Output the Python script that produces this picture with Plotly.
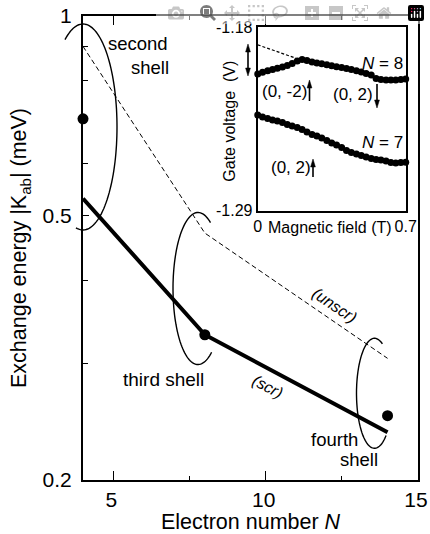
import numpy as np
import plotly.graph_objects as go

# ---------------- main panel data ----------------
shell_N = [4, 8, 14]
K_screened = [0.531, 0.331, 0.236]
K_unscreened = [0.90, 0.471, 0.305]
K_measured = [0.70, 0.331, 0.250]

x_tickvals = [5, 10, 15]
x_ticktext = ["5", "10", "15"]
x_minor = [7.5, 12.5]
y_tickvals = [0.2, 0.5, 1.0]
y_ticktext = ["0.2", "0.5", "1"]
y_minor = [0.3, 0.4, 0.6, 0.7, 0.8, 0.9]

# ---------------- inset data ----------------
B_field = [0.000, 0.023, 0.047, 0.070, 0.093, 0.117, 0.140, 0.163, 0.187, 0.210,
           0.233, 0.257, 0.280, 0.303, 0.327, 0.350, 0.373, 0.397, 0.420, 0.443,
           0.467, 0.490, 0.513, 0.537, 0.560, 0.583, 0.607, 0.630, 0.653, 0.677, 0.700]
Vg_N8 = [-1.2080, -1.2070, -1.2061, -1.2053, -1.2046, -1.2038, -1.2029, -1.2017, -1.2002, -1.1993,
         -1.1999, -1.2008, -1.2014, -1.2019, -1.2025, -1.2031, -1.2036, -1.2041, -1.2047, -1.2053,
         -1.2061, -1.2068, -1.2077, -1.2086, -1.2107, -1.2113, -1.2116, -1.2116, -1.2116, -1.2113, -1.2110]
Vg_N7 = [-1.2326, -1.2338, -1.2347, -1.2356, -1.2362, -1.2371, -1.2383, -1.2392, -1.2401, -1.2413,
         -1.2428, -1.2443, -1.2452, -1.2464, -1.2479, -1.2494, -1.2506, -1.2521, -1.2539, -1.2551,
         -1.2560, -1.2569, -1.2578, -1.2587, -1.2593, -1.2596, -1.2602, -1.2611, -1.2614, -1.2611, -1.2610]
B_extrap = [0.0, 0.18]
Vg_extrap = [-1.1905, -1.1985]

FONT = "Liberation Sans, Arial, Helvetica, sans-serif"
W, H = 430, 534
ML, MR, MT, MB = 83, 12, 16, 54   # plot area = window px 83..418, 16..480


def px(x):   # window pixel -> paper
    return (x - ML) / (W - ML - MR)


def py(y):
    return (H - MB - y) / (H - MT - MB)


def arc_path(cx, cy, a, b, t0, t1, n=90):
    pts = []
    for k in range(n + 1):
        t = np.radians(t0 + (t1 - t0) * k / n)
        pts.append((px(cx + a * np.cos(t)), py(cy - b * np.sin(t))))
    return "M " + " L ".join(f"{u:.4f},{v:.4f}" for u, v in pts)


fig = go.Figure()

# main panel
fig.add_trace(go.Scatter(x=shell_N, y=K_unscreened, mode="lines",
                         line=dict(color="black", width=1, dash="5px,3px"),
                         showlegend=False, cliponaxis=False))
fig.add_trace(go.Scatter(x=shell_N, y=K_screened, mode="lines",
                         line=dict(color="black", width=4),
                         showlegend=False, cliponaxis=False))
fig.add_trace(go.Scatter(x=shell_N, y=K_measured, mode="markers",
                         marker=dict(color="black", size=11),
                         showlegend=False, cliponaxis=False))

# inset
fig.add_trace(go.Scatter(x=B_extrap, y=Vg_extrap, mode="lines", xaxis="x2", yaxis="y2",
                         line=dict(color="black", width=1.2, dash="3px,2px"), showlegend=False))
fig.add_trace(go.Scatter(x=B_field, y=Vg_N8, mode="markers", xaxis="x2", yaxis="y2",
                         marker=dict(color="black", size=7), showlegend=False, cliponaxis=False))
fig.add_trace(go.Scatter(x=B_field, y=Vg_N7, mode="markers", xaxis="x2", yaxis="y2",
                         marker=dict(color="black", size=7), showlegend=False, cliponaxis=False))

shapes = [
    dict(type="path", path=arc_path(83, 127, 34, 103, -102, 122), xref="paper", yref="paper",
         line=dict(color="black", width=1.4)),
    dict(type="path", path=arc_path(198, 288.5, 25, 76, 60, 303), xref="paper", yref="paper",
         line=dict(color="black", width=1.4)),
    dict(type="path", path=arc_path(374.5, 393.3, 18, 55, 64, 310), xref="paper", yref="paper",
         line=dict(color="black", width=1.4)),
]


def head(x, y_tip, direction):
    # direction: -1 pointing up, +1 pointing down (screen pixels)
    L, hw = 8, 2.4
    base = y_tip - direction * L
    return dict(type="path", xref="paper", yref="paper",
                path=f"M {px(x):.4f},{py(y_tip):.4f} L {px(x - hw):.4f},{py(base):.4f} "
                     f"L {px(x + hw):.4f},{py(base):.4f} Z",
                fillcolor="black", line=dict(color="black", width=0.5))


def arrow(x, y_head, y_tail, both=False):
    d = 1 if y_head > y_tail else -1
    out = [dict(type="line", xref="paper", yref="paper", x0=px(x), x1=px(x),
                y0=py(y_tail), y1=py(y_head - d * 4), line=dict(color="black", width=1.6)),
           head(x, y_head, d)]
    if both:
        out[0]["y0"] = py(y_tail + d * 4)
        out.append(head(x, y_tail, -d))
    return out


shapes += arrow(248, 44, 76, both=True)
shapes += arrow(309.5, 80, 101)
shapes += arrow(377, 108, 84)
shapes += arrow(313, 159, 177)


def txt(text, x, y, size, angle=0, italic=False):
    return dict(text=(f"<i>{text}</i>" if italic else text), x=px(x), y=py(y),
                xref="paper", yref="paper", xanchor="center", yanchor="middle",
                showarrow=False, textangle=angle, font=dict(size=size, color="black", family=FONT))


annotations = [
    txt("second", 138, 43, 18.5),
    txt("shell", 150, 67, 18.5),
    txt("third shell", 163.5, 379, 19),
    txt("fourth", 334, 439, 18.5),
    txt("shell", 358.5, 459, 18.5),
    txt("(unscr)", 335, 305, 16, angle=34, italic=True),
    txt("(scr)", 267.5, 386, 16, angle=28, italic=True),
    # inset texts
    txt("<i>N</i> = 8", 382, 63, 17),
    txt("<i>N</i> = 7", 382, 143, 17),
    txt("(0, -2)", 284, 91, 17),
    txt("(0, 2)", 353, 94, 17),
    txt("(0, 2)", 291, 167, 17),
    txt("Gate voltage\u00a0 (V)", 228.7, 121, 16, angle=-90),
    txt("Magnetic field (T)", 330, 227, 16),
]

fig.update_layout(
    width=W, height=H,
    margin=dict(l=ML, r=MR, t=MT, b=MB, autoexpand=False),
    paper_bgcolor="white", plot_bgcolor="white",
    font=dict(family=FONT, color="black", size=21),
    shapes=shapes, annotations=annotations,
    xaxis=dict(range=[4, 15], showgrid=False, zeroline=False, automargin=False,
               showline=True, linecolor="black", linewidth=2, mirror="ticks",
               ticks="inside", ticklen=9, tickwidth=1.2, tickcolor="black",
               tickvals=x_tickvals, ticktext=x_ticktext, ticklabelshift=-2,
               ticklabeloverflow="allow",
               tickfont=dict(size=21, family=FONT),
               minor=dict(tickvals=x_minor, ticks="inside", ticklen=4, tickwidth=1.2, tickcolor="black"),
               title=dict(text="Electron number <i>N</i>", font=dict(size=21.5, family=FONT), standoff=6)),
    yaxis=dict(type="log", range=[np.log10(0.2), 0], showgrid=False, zeroline=False, automargin=False,
               showline=True, linecolor="black", linewidth=2, mirror=True,
               ticks="inside", ticklen=6, tickwidth=1.2, tickcolor="black",
               tickvals=y_tickvals, ticktext=y_ticktext, ticklabelstandoff=5,
               ticklabeloverflow="allow",
               tickfont=dict(size=21, family=FONT),
               minor=dict(tickvals=y_minor, ticks="inside", ticklen=5, tickwidth=1.2, tickcolor="black"),
               title=dict(text="Exchange energy |K<sub>ab</sub>| (meV)", font=dict(size=21.5, family=FONT), standoff=10)),
    xaxis2=dict(domain=[px(257.7), px(405.7)], anchor="y2", range=[0, 0.7], automargin=False,
                showgrid=False, zeroline=False, showline=True, linecolor="black", linewidth=2,
                mirror=True, ticks="", tickvals=[0, 0.7], ticktext=["0", "0.7"],
                ticklabeloverflow="allow",
                tickfont=dict(size=16, family=FONT)),
    yaxis2=dict(domain=[py(210.7), py(27.3)], anchor="x2", range=[-1.29, -1.18], automargin=False,
                showgrid=False, zeroline=False, showline=True, linecolor="black", linewidth=2,
                mirror=True, ticks="", tickvals=[-1.29, -1.18], ticktext=["-1.29", "-1.18"],
                ticklabeloverflow="allow",
                tickfont=dict(size=16, family=FONT)),
)

# remove the browser's default 8px page margin so the figure sits at the window origin
fig.write_html("out.html", post_script="document.body.style.margin='0px';")
